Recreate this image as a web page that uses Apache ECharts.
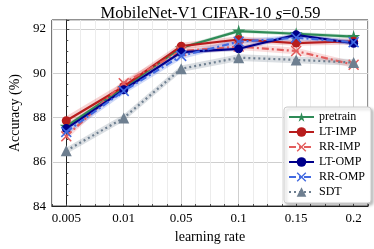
<!DOCTYPE html>
<html><head><meta charset="utf-8">
<script src="https://cdn.jsdelivr.net/npm/echarts@6/dist/echarts.min.js"></script>
<style>html,body{margin:0;padding:0;background:#fff}#c{width:374px;height:249px}</style>
</head><body><div id="c"></div>
<script>
const categories = ['0.005','0.01','0.05','0.1','0.15','0.2'];
const seriesNames = ['pretrain','LT-IMP','RR-IMP','LT-OMP','RR-OMP','SDT'];
const pretrain = [87.6, 89.35, 91.15, 91.9, 91.78, 91.65];
const ltImp   = [87.85, 89.4, 91.22, 91.52, 91.36, 91.44];
const rrImp   = [87.15, 89.55, 91.0, 91.2, 91.0, 90.38];
const ltOmp   = [87.5, 89.25, 90.95, 91.1, 91.73, 91.35];
const rrOmp   = [87.35, 89.2, 90.78, 91.42, 91.6, 91.4];
const sdt     = [86.5, 87.98, 90.2, 90.7, 90.6, 90.48];
const pretrainStd = [0.08, 0.08, 0.08, 0.08, 0.08, 0.08];
const ltImpStd = [0.2, 0.2, 0.15, 0.15, 0.12, 0.15];
const rrImpStd = [0.15, 0.15, 0.15, 0.15, 0.15, 0.15];
const ltOmpStd = [0.1, 0.1, 0.1, 0.1, 0.1, 0.1];
const rrOmpStd = [0.15, 0.15, 0.15, 0.12, 0.12, 0.12];
const sdtStd = [0.15, 0.15, 0.15, 0.15, 0.15, 0.15];
const yTicks = [84, 86, 88, 90, 92];

const FONT = 'Liberation Serif';
const STAR = 'path://M50,0 L61,35 L98,35 L68,57 L79,91 L50,70 L21,91 L32,57 L2,35 L39,35 Z';
const XMARK = 'path://M1,0 L5,4 L9,0 L10,1 L6,5 L10,9 L9,10 L5,6 L1,10 L0,9 L4,5 L0,1 Z';

const defs = [
  {name: seriesNames[0], vals: pretrain, std: pretrainStd, color: '#2e8b57', band: 'rgba(46,139,87,0.25)', symbol: STAR, size: 13, type: 'solid'},
  {name: seriesNames[1], vals: ltImp, std: ltImpStd, color: '#b81d1d', band: 'rgba(220,80,80,0.25)', symbol: 'circle', size: 9, type: 'solid'},
  {name: seriesNames[2], vals: rrImp, std: rrImpStd, color: '#e35d5d', band: 'rgba(235,120,120,0.25)', symbol: XMARK, size: 11, type: [7,3,2,3]},
  {name: seriesNames[3], vals: ltOmp, std: ltOmpStd, color: '#00008b', band: 'rgba(0,0,139,0.2)', symbol: 'circle', size: 9, type: 'solid'},
  {name: seriesNames[4], vals: rrOmp, std: rrOmpStd, color: '#4169e1', band: 'rgba(65,105,225,0.25)', symbol: XMARK, size: 11, type: [7,3,2,3]},
  {name: seriesNames[5], vals: sdt, std: sdtStd, color: '#6e7f90', band: 'rgba(112,128,144,0.25)', symbol: 'triangle', size: 11, type: [2,3]}
];

const series = [];
defs.forEach((d, k) => {
  series.push({
    type: 'custom', name: d.name + '-band', silent: true, z: 1,
    data: d.vals.map((v, i) => [i, v]),
    renderItem: function (params, api) {
      if (params.dataIndex !== 0) return null;
      const up = [], lo = [];
      for (let i = 0; i < d.vals.length; i++) {
        up.push(api.coord([i, d.vals[i] + d.std[i]]));
        lo.unshift(api.coord([i, d.vals[i] - d.std[i]]));
      }
      return {type: 'polygon', shape: {points: up.concat(lo)}, style: {fill: d.band}};
    }
  });
});
defs.forEach((d, k) => {
  series.push({
    type: 'line', name: d.name, z: 3 + k,
    data: d.vals.map((v, i) => [i, v]),
    symbol: d.symbol, symbolSize: d.size, showAllSymbol: true,
    itemStyle: {color: d.color},
    lineStyle: {color: d.color, width: 2.2, type: d.type},
    emphasis: {disabled: true}
  });
});

const chart = echarts.init(document.getElementById('c'), null, {renderer: 'canvas'});
chart.setOption({
  animation: false,
  backgroundColor: '#fff',
  title: {
    text: '{a|MobileNet-V1 CIFAR-10 }{i|s}{a|=0.59}',
    left: 205.5, top: 0, textAlign: 'center',
    textStyle: {fontWeight: 'normal', rich: {
      a: {fontFamily: FONT, fontSize: 16.5, fontWeight: 'normal', color: '#000'},
      i: {fontFamily: FONT, fontSize: 17.5, fontWeight: 'normal', fontStyle: 'italic', color: '#000'}
    }}
  },
  grid: {left: 43, right: 6, top: 20, bottom: 40, show: true, borderColor: '#222', borderWidth: 1, backgroundColor: 'transparent'},
  xAxis: {
    type: 'value', min: -0.25, max: 5.25, interval: 0.25,
    name: 'learning rate', nameLocation: 'middle', nameGap: 21,
    nameTextStyle: {fontFamily: FONT, fontSize: 14, color: '#000'},
    axisLine: {show: true, onZero: false, lineStyle: {color: '#222'}},
    axisTick: {show: true, inside: true, length: 2, lineStyle: {color: '#444'}},
    axisLabel: {
      fontFamily: FONT, fontSize: 13, color: '#000', margin: 6,
      showMinLabel: true, showMaxLabel: true,
      formatter: function (v) {
        const r = Math.round(v);
        return (Math.abs(v - r) < 1e-6 && r >= 0 && r < categories.length) ? categories[r] : '';
      }
    },
    splitLine: {show: true, lineStyle: {color: ['#ececec', '#cfcfcf', '#ececec', '#ececec'], width: 1}}
  },
  yAxis: {
    type: 'value', min: yTicks[0], max: 92.4, interval: 2,
    name: 'Accuracy (%)', nameLocation: 'middle', nameGap: 29,
    nameTextStyle: {fontFamily: FONT, fontSize: 14, color: '#000'},
    axisLine: {show: true, lineStyle: {color: '#222'}},
    axisTick: {show: true, inside: true, length: 3, lineStyle: {color: '#444'}},
    minorTick: {show: true, splitNumber: 4, length: 2, lineStyle: {color: '#444'}},
    axisLabel: {fontFamily: FONT, fontSize: 13, color: '#000', margin: 6, showMaxLabel: false,
      formatter: function (v) { return yTicks.indexOf(v) >= 0 ? String(v) : ''; }},
    splitLine: {show: true, lineStyle: {color: '#cfcfcf', width: 1}}
  },
  legend: {
    data: seriesNames,
    orient: 'vertical', left: 284, top: 107,
    itemWidth: 25, itemHeight: 12, itemGap: 3, padding: [4, 6, 5, 4],
    textStyle: {fontFamily: FONT, fontSize: 12, color: '#000'},
    backgroundColor: '#fff', borderColor: '#cccccc', borderWidth: 1, borderRadius: 3,
    shadowBlur: 3, shadowOffsetX: 2, shadowOffsetY: 2, shadowColor: 'rgba(0,0,0,0.25)'
  },
  series: series
});
</script></body></html>
